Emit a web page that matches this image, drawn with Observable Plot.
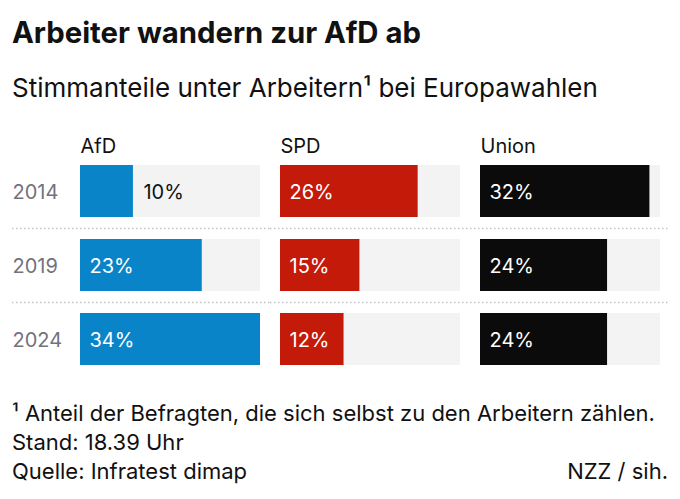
<!DOCTYPE html>
<html>
<head>
<meta charset="utf-8">
<script src="https://cdn.jsdelivr.net/npm/d3@7"></script>
<script src="https://cdn.jsdelivr.net/npm/@observablehq/plot@0.6"></script>
<style>
  html, body { margin: 0; padding: 0; background: #fff; }
  body { width: 680px; height: 499px; position: relative; font-family: Inter, Roboto, sans-serif; color: #111; overflow: hidden; }
  .t { position: absolute; left: 12px; line-height: 1; white-space: nowrap; }
  #title { top: 18px; font-size: 29.3px; font-weight: 700; }
  #subtitle { top: 75px; font-size: 26px; }
  #chart { position: absolute; left: 0; top: 125px; }
  .foot { font-size: 22px; }
  #f1 { top: 402px; }
  #f2 { top: 431px; }
  #f3 { top: 460px; }
  #f4 { top: 460px; left: auto; right: 12px; }
</style>
</head>
<body>
<div class="t" id="title">Arbeiter wandern zur AfD ab</div>
<div class="t" id="subtitle">Stimmanteile unter Arbeitern¹ bei Europawahlen</div>
<div id="chart"></div>
<div class="t foot" id="f1">¹ Anteil der Befragten, die sich selbst zu den Arbeitern zählen.</div>
<div class="t foot" id="f2">Stand: 18.39 Uhr</div>
<div class="t foot" id="f3">Quelle: Infratest dimap</div>
<div class="t foot" id="f4">NZZ / sih.</div>
<script>
const parties = ["AfD", "SPD", "Union"];
const years = ["2014", "2019", "2024"];
const afdValues = [10, 23, 34];
const spdValues = [26, 15, 12];
const unionValues = [32, 24, 24];
const partyColors = ["#0a84c8", "#c41a0a", "#0b0b0b"];

const seriesValues = [afdValues, spdValues, unionValues];
const rows = parties.flatMap((p, i) => years.map((y, j) => ({party: p, year: y, value: seriesValues[i][j]})));
const maxValue = d3.max(rows, d => d.value);
const rowsMax = rows.map(d => ({...d, max: maxValue}));
const seps = parties.flatMap(p => years.slice(1).map(y => ({party: p, year: y})));
const outside = d => d.value < 11;

const sepStyle = {fx: "party", y: "year", dy: -37, stroke: "#c4c4c4", strokeWidth: 1.5, strokeDasharray: "1.5,2.5"};

const chart = Plot.plot({
  width: 680,
  height: 255,
  marginLeft: 80,
  marginRight: 20,
  marginTop: 40,
  marginBottom: 15,
  fx: {domain: parties, axis: null, paddingInner: 0.1, paddingOuter: 0},
  x: {domain: [0, maxValue], axis: null},
  y: {domain: years, axis: null, paddingInner: 22 / 74, paddingOuter: 0},
  color: {domain: parties, range: partyColors},
  style: {fontFamily: "Inter, Roboto, sans-serif", fontSize: "20px", background: "#fff"},
  marks: [
    Plot.ruleY(seps.filter(d => d.party === "AfD"), {...sepStyle, insetLeft: -68, insetRight: -10}),
    Plot.ruleY(seps.filter(d => d.party === "SPD"), {...sepStyle, insetLeft: -10, insetRight: -10}),
    Plot.ruleY(seps.filter(d => d.party === "Union"), {...sepStyle, insetLeft: -10, insetRight: -8}),
    Plot.barX(rowsMax, {fx: "party", y: "year", x: "max", fill: "#f3f3f3"}),
    Plot.barX(rows, {fx: "party", y: "year", x: "value", fill: "party"}),
    Plot.text(rows.filter(d => !outside(d)), {fx: "party", y: "year", x: 0, text: d => d.value + "%", textAnchor: "start", dx: 9, dy: 1, fill: "#fff"}),
    Plot.text(rows.filter(outside), {fx: "party", y: "year", x: "value", text: d => d.value + "%", textAnchor: "start", dx: 10, dy: 1, fill: "#111"}),
    Plot.text(rows.filter(d => d.party === parties[0]), {fx: "party", y: "year", text: "year", frameAnchor: "left", textAnchor: "start", dx: -68, dy: 1, fill: "#72727f"}),
    Plot.text(parties, {fx: d => d, text: d => d, frameAnchor: "top-left", textAnchor: "start", lineAnchor: "bottom", dy: -13, fill: "#111"})
  ]
});
document.getElementById("chart").appendChild(chart);
</script>
</body>
</html>
